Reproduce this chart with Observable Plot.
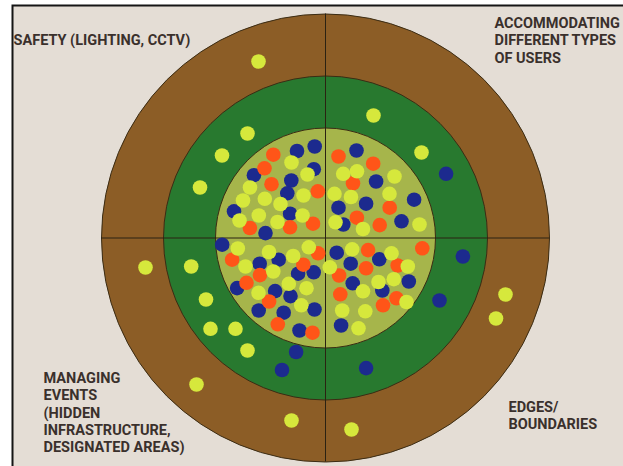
<!DOCTYPE html>
<html><head><meta charset="utf-8">
<script src="https://cdn.jsdelivr.net/npm/d3@7"></script>
<script src="https://cdn.jsdelivr.net/npm/@observablehq/plot@0.6"></script>
<style>
html,body{margin:0;padding:0;background:#fff;}
</style></head><body><div id="chart"></div>
<script>
// Target rings (radius in board units; centre = 0,0)
const ringLevels = ["outer", "middle", "inner"];
const ringRadii = [224, 162, 110];

// Quadrant labels
const quadrantLabels = [
  "SAFETY (LIGHTING, CCTV)",
  "ACCOMMODATING\nDIFFERENT TYPES\nOF USERS",
  "MANAGING\nEVENTS\n(HIDDEN\nINFRASTRUCTURE,\nDESIGNATED AREAS)",
  "EDGES/\nBOUNDARIES"
];

// Dot votes, [x, y] relative to the target centre (y up)
const yellowDots = [
  [-67,176.5],[48,122.5],[-78,104.5],[96,85.5],[-103.5,82.5],[-125.5,50.5],
  [-180,-29.5],[-134.3,-28.5],[-119.5,-61.5],[-115,-90.8],[-90,-90.8],[-78,-112.5],
  [-129,-146.5],[-34,-182.5],[180,-56.5],[170.5,-80.5],[26,-191.5],
  [-34,75.5],[-18,63.5],[-75.5,50.5],[-22,42.5],[-82.5,37.5],[-60.7,39.2],[-45,34],
  [-66.7,22.5],[-86,17.5],[-48,16],[-23,22.5],
  [17.7,64.2],[31.5,66.7],[69,61.5],[9,44.2],[25.5,41],[64,44.2],[10,15.7],[37.5,9],[94,13.5],
  [-87.7,-10.5],[-56.5,-14],[-32.3,-18],[-16.7,-9.3],[-80,-28.5],[-52.2,-33.5],[-36.7,-45.8],
  [-19,-50.2],[-67,-54.8],[-24.2,-67.3],
  [26.7,-11.3],[66,-15.3],[4.3,-29.3],[82.3,-28.5],[53,-44],[68.3,-41.2],[37.5,-53.3],
  [81,-64],[16.7,-72.5],[39.8,-73.3],[33,-90.3]
];
const orangeDots = [
  [-52.2,83.3],[-61,69.7],[-54,53.8],[-7.7,46.7],[-75.6,10],[-35.5,10.7],[-12.5,14.3],
  [13,81.5],[47.7,74.3],[27.5,54.7],[64.2,30.3],[31.4,20.3],[54.2,12.9],
  [-7.4,-15.3],[-93.4,-21.7],[-22.2,-26.7],[-65.6,-37.1],[-79,-44.8],[-56.4,-63.5],[-47.7,-86.3],[-13,-94.7],
  [42.6,-12.1],[96.8,-10.3],[40.6,-30.3],[72.2,-27.5],[13.6,-37.5],[14.8,-56.3],[71,-60.3],[57.5,-67.3]
];
const blueDots = [
  [-28.5,87],[-10.8,91.5],[-11.7,68.8],[-71.6,62.8],[-34.2,57.5],[-38.2,44.7],[-91.5,26.7],
  [-35.4,24.3],[-60,4.9],[-103.3,-6.7],
  [31,87.5],[50.6,56.5],[40.6,34.3],[88.6,38.3],[13,30.3],[17.8,13.5],[76,16.7],[120.6,64.2],
  [-65.8,-25.7],[-46.8,-21.7],[-27.4,-35.7],[-11.8,-34.3],[-88.4,-50.1],[-50.4,-53.1],[-35,-58.1],
  [-66.8,-72.5],[-41.8,-74.7],[-11,-71.5],[-26,-92.5],[-29.4,-114],[-43.5,-132],
  [11.2,-14.7],[53.8,-21.3],[25.2,-25.7],[27.2,-45.3],[83.3,-43.5],[56.8,-52.5],[15.6,-87.5],
  [114,-62.5],[137.4,-18.5],[40.6,-130.1]
];

const rings = ringLevels.map((level, i) => ({level, radius: ringRadii[i]}));
const R = ringRadii[0];
const textColor = "#3a302c";
const textOpts = {text: d => d, frameAnchor: "top-left", lineAnchor: "top", textAnchor: "start",
  fontSize: 14.5, fontWeight: 700, fill: textColor, lineHeight: 1.2};

const chart = Plot.plot({
  width: 623, height: 466,
  margin: 0,
  style: {fontFamily: "Roboto, sans-serif", background: "#fff"},
  x: {domain: [-325, 298], axis: null},
  y: {domain: [-228.5, 237.5], axis: null},
  r: {type: "linear", domain: [0, R], range: [0, R]},
  color: {domain: ringLevels, range: ["#8c5d26", "#28792f", "#a6b54b"]},
  marks: [
    Plot.frame({fill: "#e4ddd5", stroke: "#151515", strokeWidth: 2, insetLeft: 12, insetTop: 5, insetRight: -10, insetBottom: -10}),
    Plot.dot(rings, {x: 0, y: 0, r: "radius", fill: "level", stroke: "#3b2c14", strokeWidth: 1}),
    Plot.ruleX([0], {y1: -R, y2: R, stroke: "#2b2212", strokeWidth: 1}),
    Plot.ruleY([0], {x1: -R, x2: R, stroke: "#2b2212", strokeWidth: 1}),
    Plot.dot(blueDots, {x: d => d[0], y: d => d[1], r: 7.3, fill: "#1c2a8e"}),
    Plot.dot(orangeDots, {x: d => d[0], y: d => d[1], r: 7.3, fill: "#ff5518"}),
    Plot.dot(yellowDots, {x: d => d[0], y: d => d[1], r: 7.3, fill: "#d6e83c"}),
    Plot.text([quadrantLabels[0]], {...textOpts, dx: 13, dy: 32}),
    Plot.text([quadrantLabels[1]], {...textOpts, dx: 494, dy: 15}),
    Plot.text([quadrantLabels[2]], {...textOpts, dx: 43, dy: 370}),
    Plot.text([quadrantLabels[3]], {...textOpts, dx: 508, dy: 399})
  ]
});
document.getElementById("chart").appendChild(chart);
</script></body></html>
